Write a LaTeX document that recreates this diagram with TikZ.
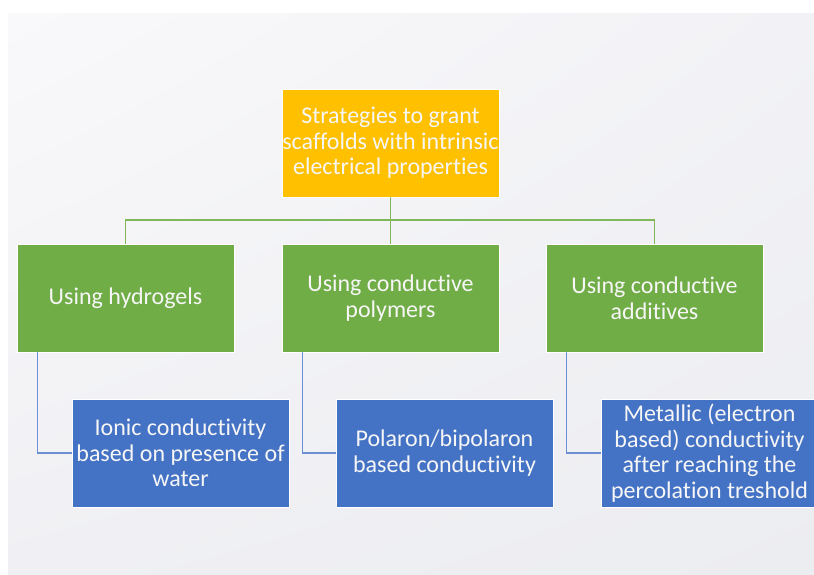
\documentclass[tikz,border=0pt]{standalone}
\usepackage{fontspec}
\setmainfont[Ligatures=NoCommon]{Carlito}
\usetikzlibrary{shadings}
\definecolor{bgA}{HTML}{F9F9FB}
\definecolor{bgB}{HTML}{F2F2F6}
\definecolor{bgC}{HTML}{F0F0F4}
\definecolor{bgD}{HTML}{ECEDF0}
\definecolor{gold}{HTML}{FFC000}
\definecolor{leaf}{HTML}{70AD47}
\definecolor{sea}{HTML}{4472C4}
\definecolor{leafline}{HTML}{7FB85A}
\definecolor{sealine}{HTML}{6A8FD2}
\definecolor{paper}{HTML}{F6F6F6}
\begin{document}
\begin{tikzpicture}[x=1pt,y=-1pt,
  box/.style={rectangle,minimum width=217pt,minimum height=108pt,inner sep=0pt,
    draw=white,line width=0.6pt,text=paper,align=center,
    font=\fontsize{24}{25.5}\selectfont},
  topbox/.style={box,fill=gold},
  midbox/.style={box,fill=leaf},
  lowbox/.style={box,fill=sea},
  gline/.style={draw=leafline,line width=1.3pt},
  bline/.style={draw=sealine,line width=1.3pt}]
  % page and soft backdrop
  \useasboundingbox (0,0) rectangle (814,574);
  \fill[white] (0,0) rectangle (814,574);
  \shade[upper left=bgA,upper right=bgB,lower left=bgC,lower right=bgD]
    (8,13) rectangle (814,574);
  \clip (0,0) rectangle (814,574);

  % boxes
  \node[topbox] (top) at (390.5,143) {Strategies to grant\\scaffolds with intrinsic\\electrical properties};
  \node[midbox] (g1) at (125.5,298) {Using hydrogels};
  \node[midbox] (g2) at (390.5,298) {Using conductive\\polymers};
  \node[midbox] (g3) at (654.5,298) {Using conductive\\additives};
  \node[lowbox] (b1) at (180.5,453) {Ionic conductivity\\based on presence of\\water};
  \node[lowbox] (b2) at (444.5,453) {Polaron/bipolaron\\based conductivity};
  \node[lowbox] (b3) at (709.5,453) {Metallic (electron\\based) conductivity\\after reaching the\\percolation treshold};

  % green tree connectors
  \coordinate (bus) at (0,220);
  \draw[gline] (top.south) -- (g2.north);
  \draw[gline] (g1.north) -- (g1.north|-bus) -- (g3.north|-bus) -- (g3.north);

  % blue elbow connectors
  \draw[bline] ([xshift=21pt]g1.south west) |- (b1.west);
  \draw[bline] ([xshift=21pt]g2.south west) |- (b2.west);
  \draw[bline] ([xshift=21pt]g3.south west) |- (b3.west);
\end{tikzpicture}
\end{document}
